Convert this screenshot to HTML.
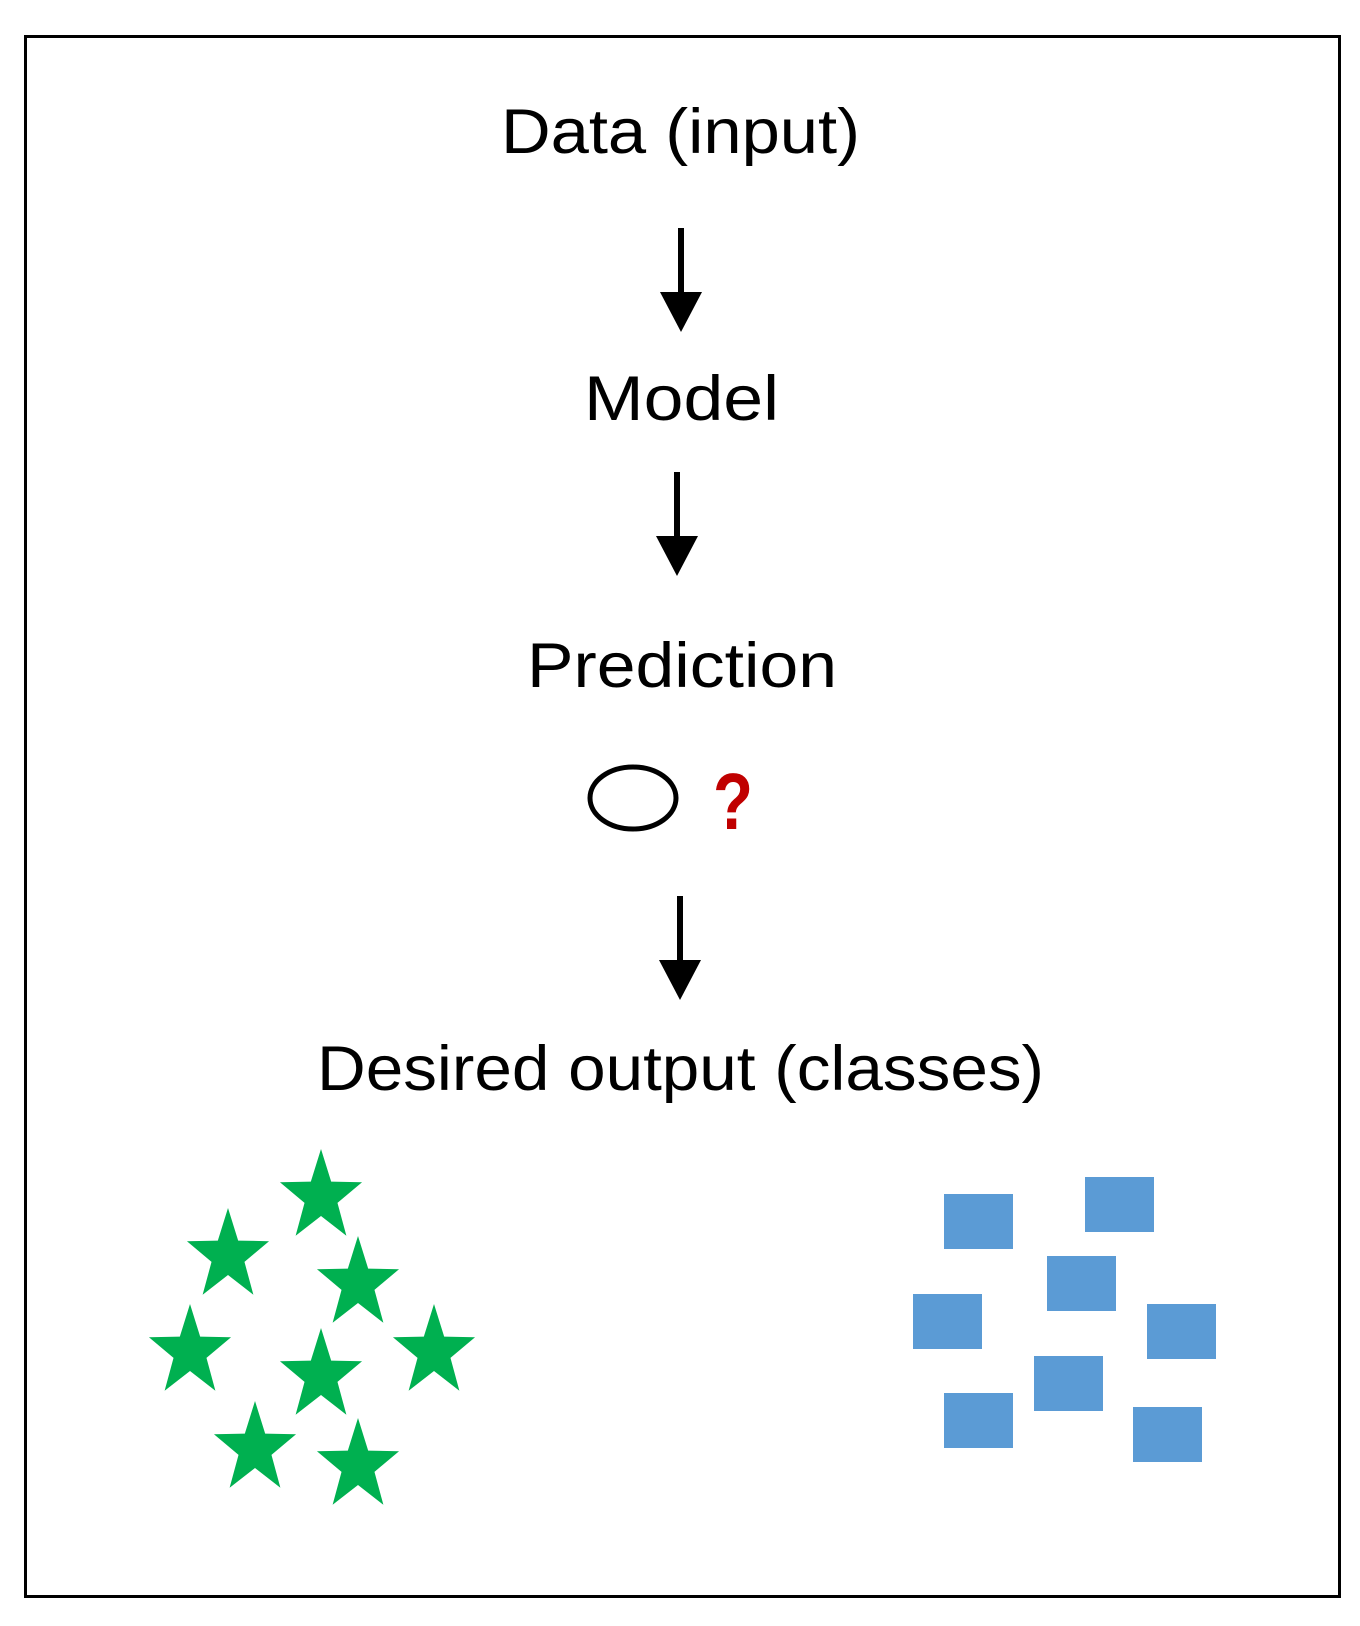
<!DOCTYPE html>
<html><head><meta charset="utf-8"><style>
html,body{margin:0;padding:0;background:#fff;}
svg{display:block;}
text{font-family:"Liberation Sans",sans-serif;font-size:63px;fill:#000;}
</style></head><body>
<svg width="1360" height="1626" viewBox="0 0 1360 1626" xmlns="http://www.w3.org/2000/svg">
<defs>
<path id="st" d="M0,-48 L11.3,-15.4 L45.6,-14.8 L18.3,5.9 L28.2,38.8 L0,19 L-28.2,38.8 L-18.3,5.9 L-45.6,-14.8 L-11.3,-15.4 Z" transform="scale(0.9,1)"/>
</defs>
<rect x="25.5" y="36.5" width="1314" height="1560" fill="none" stroke="#000" stroke-width="3"/>
<text x="501" y="153" textLength="359" lengthAdjust="spacingAndGlyphs">Data (input)</text>
<line x1="681" y1="228" x2="681" y2="296" stroke="#000" stroke-width="6"/>
<polygon points="660,292 702,292 681,332" fill="#000"/>
<text x="584" y="420" textLength="195" lengthAdjust="spacingAndGlyphs">Model</text>
<line x1="677" y1="472" x2="677" y2="540" stroke="#000" stroke-width="6"/>
<polygon points="656,536 698,536 677,576" fill="#000"/>
<text x="527" y="687" textLength="310" lengthAdjust="spacingAndGlyphs">Prediction</text>
<ellipse cx="633" cy="798" rx="43" ry="31" fill="none" stroke="#000" stroke-width="5"/>
<text x="713" y="829" style="font-size:80px;font-weight:bold;fill:#c00000" textLength="40" lengthAdjust="spacingAndGlyphs">?</text>
<line x1="680" y1="896" x2="680" y2="964" stroke="#000" stroke-width="6"/>
<polygon points="659,960 701,960 680,1000" fill="#000"/>
<text x="317" y="1090" textLength="727" lengthAdjust="spacingAndGlyphs">Desired output (classes)</text>
<g fill="#00b050">
<use href="#st" x="321" y="1197"/>
<use href="#st" x="228" y="1256"/>
<use href="#st" x="358" y="1284"/>
<use href="#st" x="190" y="1352"/>
<use href="#st" x="434" y="1352"/>
<use href="#st" x="321" y="1376"/>
<use href="#st" x="255" y="1449"/>
<use href="#st" x="358" y="1466"/>
</g>
<g fill="#5b9bd5">
<rect x="944" y="1194" width="69" height="55"/>
<rect x="1085" y="1177" width="69" height="55"/>
<rect x="1047" y="1256" width="69" height="55"/>
<rect x="913" y="1294" width="69" height="55"/>
<rect x="1147" y="1304" width="69" height="55"/>
<rect x="1034" y="1356" width="69" height="55"/>
<rect x="944" y="1393" width="69" height="55"/>
<rect x="1133" y="1407" width="69" height="55"/>
</g>
</svg>
</body></html>
